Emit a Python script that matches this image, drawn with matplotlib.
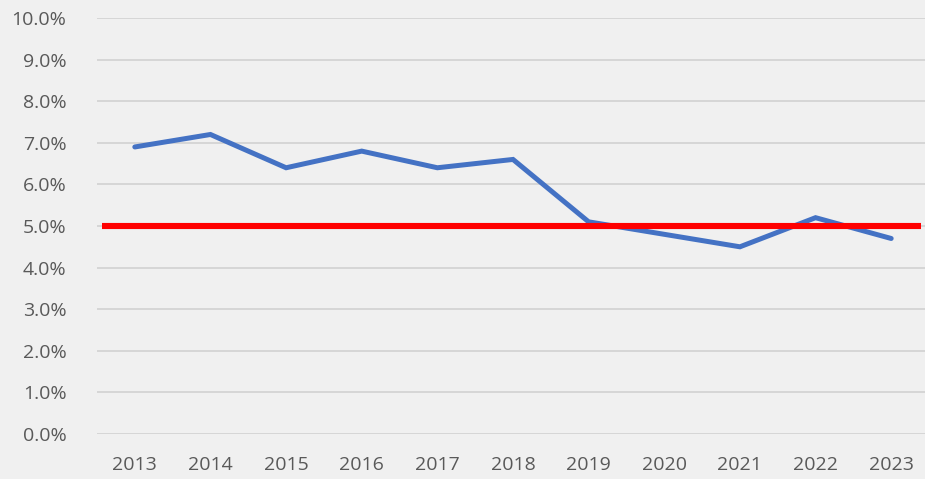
import matplotlib
matplotlib.use("Agg")
import matplotlib.pyplot as plt
from matplotlib.ticker import FuncFormatter, MultipleLocator

years = ["2013", "2014", "2015", "2016", "2017", "2018", "2019", "2020", "2021", "2022", "2023"]
rate = [6.9, 7.2, 6.4, 6.8, 6.4, 6.6, 5.1, 4.8, 4.5, 5.2, 4.7]
threshold = 5.0

bg = "#f0f0f0"
fig = plt.figure(figsize=(9.25, 4.79), dpi=100, facecolor=bg)
ax = fig.add_axes([97/925, 1-434/479, 832/925, (434-18)/479])
ax.set_facecolor(bg)

x = list(range(len(years)))
ax.set_xlim(-0.5, len(years) - 0.5)
ax.set_ylim(0, 10)
ax.yaxis.set_major_locator(MultipleLocator(1))
ax.yaxis.set_major_formatter(FuncFormatter(lambda v, p: f"{v:.1f}%"))
ax.grid(axis="y", color="#d6d6d6", linewidth=1.4, zorder=0)
ax.set_xticks(x)
ax.set_xticklabels(years)
for s in ax.spines.values():
    s.set_visible(False)
ax.tick_params(length=0, labelsize=14, labelcolor="#595959")
ax.tick_params(axis="x", pad=16)
ax.tick_params(axis="y", pad=22)
for lbl in ax.get_xticklabels() + ax.get_yticklabels():
    lbl.set_fontfamily("Open Sans")

ax.plot(x, rate, color="#4472c4", linewidth=3.6, solid_capstyle="round", solid_joinstyle="miter", zorder=3)
ax.hlines(threshold, -0.43, len(years) - 0.6, color="#ff0000", linewidth=4.4, zorder=4)

fig.savefig("out.png", dpi=100, facecolor=bg)
